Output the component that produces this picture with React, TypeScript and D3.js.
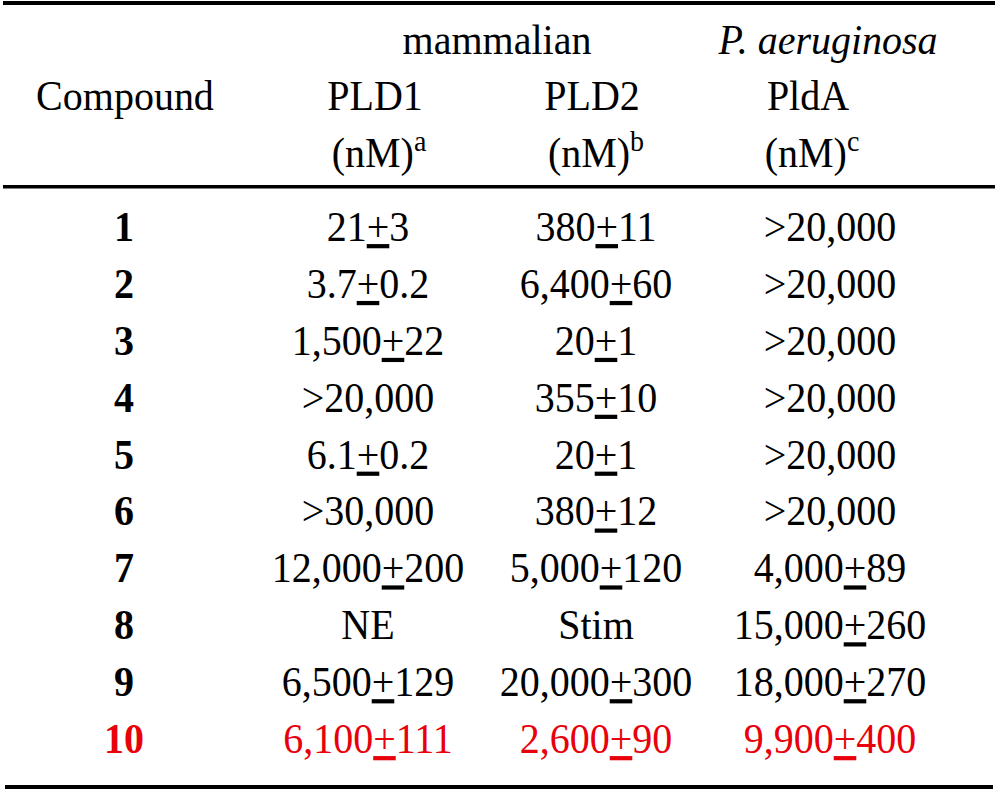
import React from "react";
import * as d3 from "d3";

const compounds = ["1", "2", "3", "4", "5", "6", "7", "8", "9", "10"];
const pld1 = ["21±3", "3.7±0.2", "1,500±22", ">20,000", "6.1±0.2", ">30,000", "12,000±200", "NE", "6,500±129", "6,100±111"];
const pld2 = ["380±11", "6,400±60", "20±1", "355±10", "20±1", "380±12", "5,000±120", "Stim", "20,000±300", "2,600±90"];
const plda = [">20,000", ">20,000", ">20,000", ">20,000", ">20,000", ">20,000", "4,000±89", "15,000±260", "18,000±270", "9,900±400"];
const highlighted = ["10"];

const groupHeaders = [
  { label: "mammalian", italic: false },
  { label: "P. aeruginosa", italic: true },
];
const columnHeaders = ["Compound", "PLD1", "PLD2", "PldA"];
const unitHeaders = ["", "(nM)", "(nM)", "(nM)"];
const unitNotes = ["", "a", "b", "c"];

const W = 1000;
const H = 790;
const FONT = "'Liberation Serif', 'Times New Roman', serif";
const FS = 40;
const SY = 1.05;
const RED = "#e8000b";

const colKeys = ["compound", "pld1", "pld2", "plda"];
const xData = d3.scaleOrdinal<string, number>().domain(colKeys).range([124, 368, 596, 830]);
const xHead = d3.scaleOrdinal<string, number>().domain(colKeys).range([125, 375, 592, 808]);
const yRow = d3.scalePoint<string>().domain(compounds).range([241, 753]);

function Value({ text }: { text: string }) {
  const parts = text.split("±");
  if (parts.length === 1) return <>{text}</>;
  return (
    <>
      <tspan>{parts[0]}</tspan>
      <tspan style={{ textDecoration: "underline" }}>+</tspan>
      <tspan>{parts[1]}</tspan>
    </>
  );
}

function T({ x, y, children, weight, italic, fill, size }: any) {
  return (
    <text
      transform={`translate(${x},${y}) scale(1,${SY})`}
      textAnchor="middle"
      fontFamily={FONT}
      fontSize={size ?? FS}
      fontWeight={weight ?? "normal"}
      fontStyle={italic ? "italic" : "normal"}
      fill={fill ?? "#000"}
    >
      {children}
    </text>
  );
}

export default function App() {
  const cols = [pld1, pld2, plda];
  return (
    <svg width={W} height={H} style={{ position: "absolute", left: 0, top: 0, background: "#fff" }}>
      <rect x={0} y={0} width={W} height={H} fill="#fff" />
      {/* rules */}
      <rect x={3} y={1} width={992} height={4} fill="#000" />
      <rect x={3} y={185} width={992} height={3.5} fill="#000" />
      <rect x={5} y={785} width={988} height={4} fill="#000" />

      {/* group headers */}
      <T x={497} y={54}>{groupHeaders[0].label}</T>
      <T x={828} y={54} italic>{groupHeaders[1].label}</T>

      {/* column headers */}
      {columnHeaders.map((h, i) => (
        <T key={h} x={xHead(colKeys[i])} y={110}>{h}</T>
      ))}
      {unitHeaders.map((u, i) =>
        u ? (
          <T key={"u" + i} x={xHead(colKeys[i]) + 4} y={167}>
            <tspan>{u}</tspan>
            <tspan fontSize={28} dy={-15}>{unitNotes[i]}</tspan>
          </T>
        ) : null
      )}

      {/* rows */}
      {compounds.map((c, r) => {
        const hl = highlighted.includes(c);
        const fill = hl ? RED : "#000";
        const y = yRow(c)!;
        return (
          <g key={c}>
            <T x={xData("compound")} y={y} weight="bold" fill={fill}>{c}</T>
            {cols.map((col, j) => (
              <T key={j} x={xData(colKeys[j + 1])} y={y} fill={fill}>
                <Value text={col[r]} />
              </T>
            ))}
          </g>
        );
      })}
    </svg>
  );
}
